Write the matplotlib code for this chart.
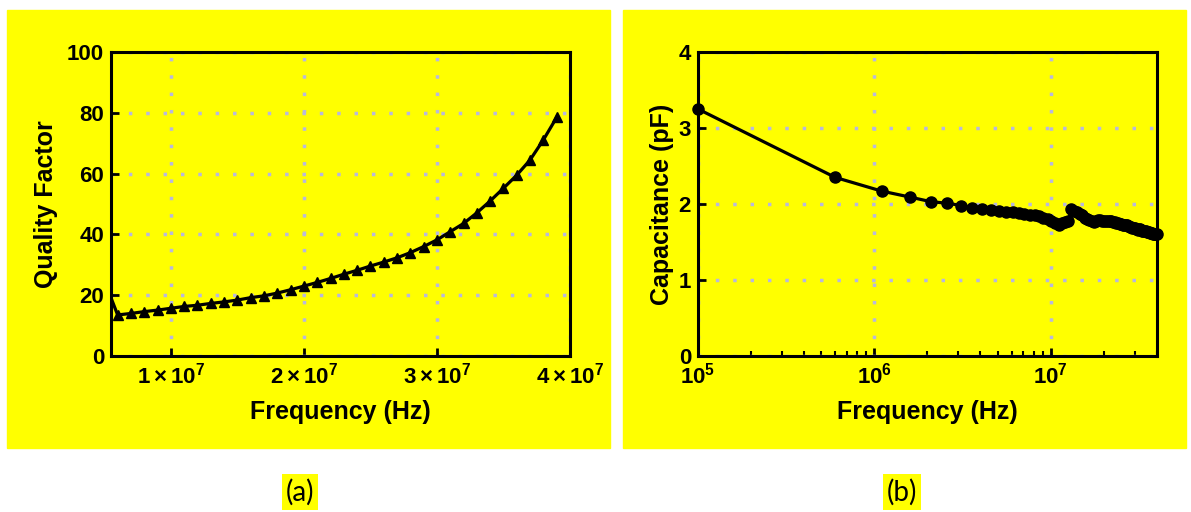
import matplotlib
matplotlib.use("Agg")
import matplotlib.pyplot as plt
from matplotlib.patches import Rectangle

# (a) quality factor vs frequency (Hz)
freq_a = [5e6, 6e6, 7e6, 8e6, 9e6, 10e6, 11e6, 12e6, 13e6, 14e6, 15e6, 16e6,
          17e6, 18e6, 19e6, 20e6, 21e6, 22e6, 23e6, 24e6, 25e6, 26e6, 27e6,
          28e6, 29e6, 30e6, 31e6, 32e6, 33e6, 34e6, 35e6, 36e6, 37e6, 38e6, 39e6]
q_factor = [24.8, 13.5, 14.0, 14.6, 15.1, 15.7, 16.3, 16.7, 17.3, 17.8, 18.4, 19.2,
            19.8, 20.7, 21.8, 23.0, 24.2, 25.5, 26.9, 28.2, 29.6, 30.9, 32.3,
            34.0, 36.0, 38.2, 40.9, 43.6, 47.1, 51.0, 55.2, 59.5, 64.5, 71.1, 78.5]

# (b) capacitance (pF) vs frequency, sweep in MHz
freq_b_mhz = [0.1, 0.6, 1.1, 1.6, 2.1, 2.6, 3.1, 3.6, 4.1, 4.6, 5.1, 5.6, 6.1, 6.6,
              7.1, 7.6, 8.1, 8.6, 9.1, 9.6, 10.1, 10.6, 11.1, 11.6, 12.1, 12.6,
              13.1, 13.6, 14.1, 14.6, 15.1, 15.6, 16.1, 16.6, 17.1, 17.6, 18.1,
              18.6, 19.1, 19.6, 20.1, 20.6, 21.1, 21.6, 22.1, 22.6, 23.1, 23.6,
              24.1, 24.6, 25.1, 25.6, 26.1, 26.6, 27.1, 27.6, 28.1, 28.6, 29.1,
              29.6, 30.1, 30.6, 31.1, 31.6, 32.1, 32.6, 33.1, 33.6, 34.1, 34.6,
              35.1, 35.6, 36.1, 36.6, 37.1, 37.6, 38.1, 38.6, 39.1, 39.6, 40.1]
capacitance = [3.25, 2.35, 2.17, 2.09, 2.03, 2.01, 1.98, 1.95, 1.93, 1.92, 1.91,
               1.90, 1.89, 1.88, 1.87, 1.86, 1.85, 1.84, 1.82, 1.80, 1.77, 1.75,
               1.73, 1.75, 1.76, 1.77, 1.94, 1.91, 1.89, 1.87, 1.85, 1.82, 1.80,
               1.79, 1.77, 1.76, 1.77, 1.79, 1.79, 1.78, 1.78, 1.78, 1.78, 1.77,
               1.77, 1.76, 1.76, 1.75, 1.75, 1.74, 1.74, 1.73, 1.73, 1.72, 1.72,
               1.71, 1.70, 1.70, 1.69, 1.69, 1.68, 1.67, 1.66, 1.67, 1.67, 1.66,
               1.65, 1.65, 1.64, 1.64, 1.63, 1.63, 1.63, 1.62, 1.62, 1.62, 1.61,
               1.61, 1.61, 1.60, 1.60]
freq_b = [f * 1e6 for f in freq_b_mhz]

xticks_a = [1e7, 2e7, 3e7, 4e7]
xticklabels_a = [r"$1\times10^{7}$", r"$2\times10^{7}$", r"$3\times10^{7}$", r"$4\times10^{7}$"]
yticks_a = [0, 20, 40, 60, 80, 100]
xticks_b = [1e5, 1e6, 1e7]
xticklabels_b = [r"$10^{5}$", r"$10^{6}$", r"$10^{7}$"]
yticks_b = [0, 1, 2, 3, 4]

YELLOW = "#ffff00"
GRID = "#b8b8dc"

plt.rcParams["font.family"] = "Liberation Sans"
plt.rcParams["font.weight"] = "bold"
plt.rcParams["mathtext.fontset"] = "custom"
plt.rcParams["mathtext.rm"] = "Liberation Sans:bold"
plt.rcParams["mathtext.bf"] = "Liberation Sans:bold"
plt.rcParams["mathtext.it"] = "Liberation Sans:bold"
plt.rcParams["mathtext.default"] = "rm"

W, H = 1191, 512
fig = plt.figure(figsize=(W / 100, H / 100), dpi=100)
fig.patches.append(Rectangle((7 / W, 1 - 448 / H), (610 - 7) / W, 438 / H,
                             transform=fig.transFigure, color=YELLOW, zorder=-10))
fig.patches.append(Rectangle((623 / W, 1 - 448 / H), (1186 - 623) / W, 438 / H,
                             transform=fig.transFigure, color=YELLOW, zorder=-10))

ax1 = fig.add_axes([111 / W, 156 / H, 459 / W, 304 / H])
ax2 = fig.add_axes([698 / W, 156 / H, 459 / W, 304 / H])

ax1.plot(freq_a, q_factor, color="black", marker="^", lw=2.3, ms=7.5)
ax1.set_xlim(5.5e6, 4.0e7)
ax1.set_ylim(0, 100)
ax1.set_xticks(xticks_a)
ax1.set_xticklabels(xticklabels_a)
ax1.set_yticks(yticks_a)
ax1.set_ylabel("Quality Factor", fontsize=18, fontweight="bold")

ax2.semilogx(freq_b, capacitance, color="black", marker="o", lw=2.3, ms=8, clip_on=False)
ax2.set_xlim(1e5, 4.01e7)
ax2.set_ylim(0, 4)
ax2.set_xticks(xticks_b)
ax2.set_xticklabels(xticklabels_b)
ax2.set_yticks(yticks_b)
ax2.set_ylabel("Capacitance (pF)", fontsize=18, fontweight="bold")

for ax in (ax1, ax2):
    ax.set_facecolor(YELLOW)
    for s in ax.spines.values():
        s.set_linewidth(2.2)
    ax.tick_params(which="major", direction="in", length=6, width=2, labelsize=16, pad=5)
    ax.tick_params(which="minor", direction="in", length=3.5, width=1.5)
    ax.grid(True, which="major", color=GRID, linestyle=(0, (1, 4)), lw=2.5)
    ax.set_xlabel("Frequency (Hz)", fontsize=18, fontweight="bold")
    ax.xaxis.set_label_coords(0.5, -0.145)

ax1.yaxis.set_label_coords(-0.115, 0.5)
ax2.yaxis.set_label_coords(-0.052, 0.5)

fig.text(300 / W, 1 - 492 / H, "(a)", family="Lato", fontweight="normal", fontsize=20,
         ha="center", va="center", bbox=dict(facecolor=YELLOW, edgecolor="none", pad=3))
fig.text(902 / W, 1 - 492 / H, "(b)", family="Lato", fontweight="normal", fontsize=20,
         ha="center", va="center", bbox=dict(facecolor=YELLOW, edgecolor="none", pad=3))

fig.savefig("out.png", dpi=100, facecolor="white")
